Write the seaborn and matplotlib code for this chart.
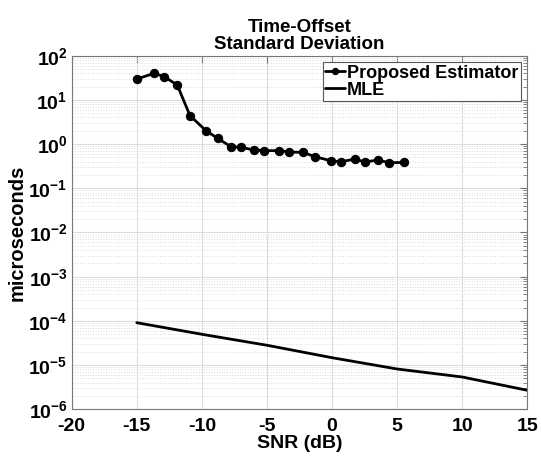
import numpy as np
import pandas as pd
import matplotlib
matplotlib.use("Agg")
import matplotlib.pyplot as plt
from matplotlib.ticker import FixedLocator, FuncFormatter, LogLocator, NullFormatter
import seaborn as sns

# Data
prop_snr = [-15, -13.66, -12.89, -11.89, -10.91, -9.68, -8.79, -7.76, -7.02, -5.98, -5.21,
            -4.06, -3.29, -2.26, -1.29, -0.11, 0.71, 1.76, 2.51, 3.53, 4.41, 5.55]
prop_std = [29.7, 40.0, 33.5, 21.7, 4.4, 2.01, 1.35, 0.873, 0.847, 0.736, 0.71,
            0.71, 0.662, 0.652, 0.518, 0.421, 0.40, 0.46, 0.393, 0.436, 0.379, 0.385]
mle_snr = [-15, -10, -5, 0, 5, 10, 15]
mle_std = [9.1e-5, 4.98e-5, 2.81e-5, 1.47e-5, 8.16e-6, 5.38e-6, 2.69e-6]
x_ticks = [-20, -15, -10, -5, 0, 5, 10, 15]
y_exps = [2, 1, 0, -1, -2, -3, -4, -5, -6]

sns.set_style("white")
plt.rcParams['font.family'] = ['Liberation Sans', 'DejaVu Sans']
plt.rcParams['font.weight'] = 'bold'
plt.rcParams['text.color'] = 'black'
plt.rcParams['axes.labelcolor'] = 'black'
plt.rcParams['mathtext.fontset'] = 'custom'
plt.rcParams['mathtext.rm'] = 'Liberation Sans:bold'
plt.rcParams['mathtext.bf'] = 'Liberation Sans:bold'
plt.rcParams['mathtext.it'] = 'Liberation Sans:bold'

fig = plt.figure(figsize=(5.41, 4.57), dpi=100)
ax = fig.add_axes([0.1325, 0.1044, 0.8422, 0.7737])

df_p = pd.DataFrame({"snr": prop_snr, "std": prop_std, "series": "Proposed Estimator"})
df_m = pd.DataFrame({"snr": mle_snr, "std": mle_std, "series": "MLE"})

sns.lineplot(data=df_p, x="snr", y="std", ax=ax, color="black", linewidth=2.0,
             marker="o", markersize=6, markeredgecolor="black", label="Proposed Estimator",
             sort=False)
sns.lineplot(data=df_m, x="snr", y="std", ax=ax, color="black", linewidth=2.0,
             label="MLE", sort=False)

ax.set_yscale("log")
ax.set_xlim(-20, 15)
ax.set_ylim(1e-6, 1e2)
ax.xaxis.set_major_locator(FixedLocator(x_ticks))
ax.xaxis.set_major_formatter(FuncFormatter(lambda v, p: f"{int(v)}"))
ax.yaxis.set_major_locator(FixedLocator([10.0 ** e for e in y_exps]))
ax.yaxis.set_major_formatter(FuncFormatter(lambda v, p: r"$\mathbf{10^{%d}}$" % int(round(np.log10(v)))))
ax.yaxis.set_minor_locator(LogLocator(base=10, subs=np.arange(2, 10), numticks=100))
ax.yaxis.set_minor_formatter(NullFormatter())

ax.grid(which="major", color="#dcdcdc", linewidth=0.8, linestyle="-")
ax.grid(which="minor", axis="y", color="#dcdcdc", linewidth=0.7, linestyle=":")
ax.set_axisbelow(True)

ax.tick_params(which="both", direction="in", top=True, right=True, colors="#777777",
               labelcolor="black", labelsize=14)
ax.tick_params(which="major", length=5, width=0.8)
ax.tick_params(which="minor", length=3, width=0.6)
ax.tick_params(axis="x", which="major", pad=6.5)
ax.tick_params(axis="y", which="major", pad=3)
for s in ax.spines.values():
    s.set_color("#777777")
    s.set_linewidth(0.8)

ax.set_xlabel("SNR (dB)", fontsize=14, fontweight="bold", labelpad=0, color="black")
ax.set_ylabel("microseconds", fontsize=14.5, fontweight="bold", labelpad=1, color="black")
ax.set_title("Time-Offset\nStandard Deviation", fontsize=13.5, fontweight="bold",
             linespacing=1.0, pad=5, color="black")

leg = ax.legend(loc="upper right", fontsize=13, frameon=True, fancybox=False,
                edgecolor="#555555", framealpha=1, borderpad=0.15, labelspacing=0.0,
                handlelength=1.1, handletextpad=0.1, borderaxespad=0.35)
leg.get_frame().set_linewidth(0.8)
for t in leg.get_texts():
    t.set_fontweight("bold")
    t.set_color("black")
for h in leg.get_lines():
    h.set_markersize(4.5)

fig.savefig("out.png", dpi=100)
